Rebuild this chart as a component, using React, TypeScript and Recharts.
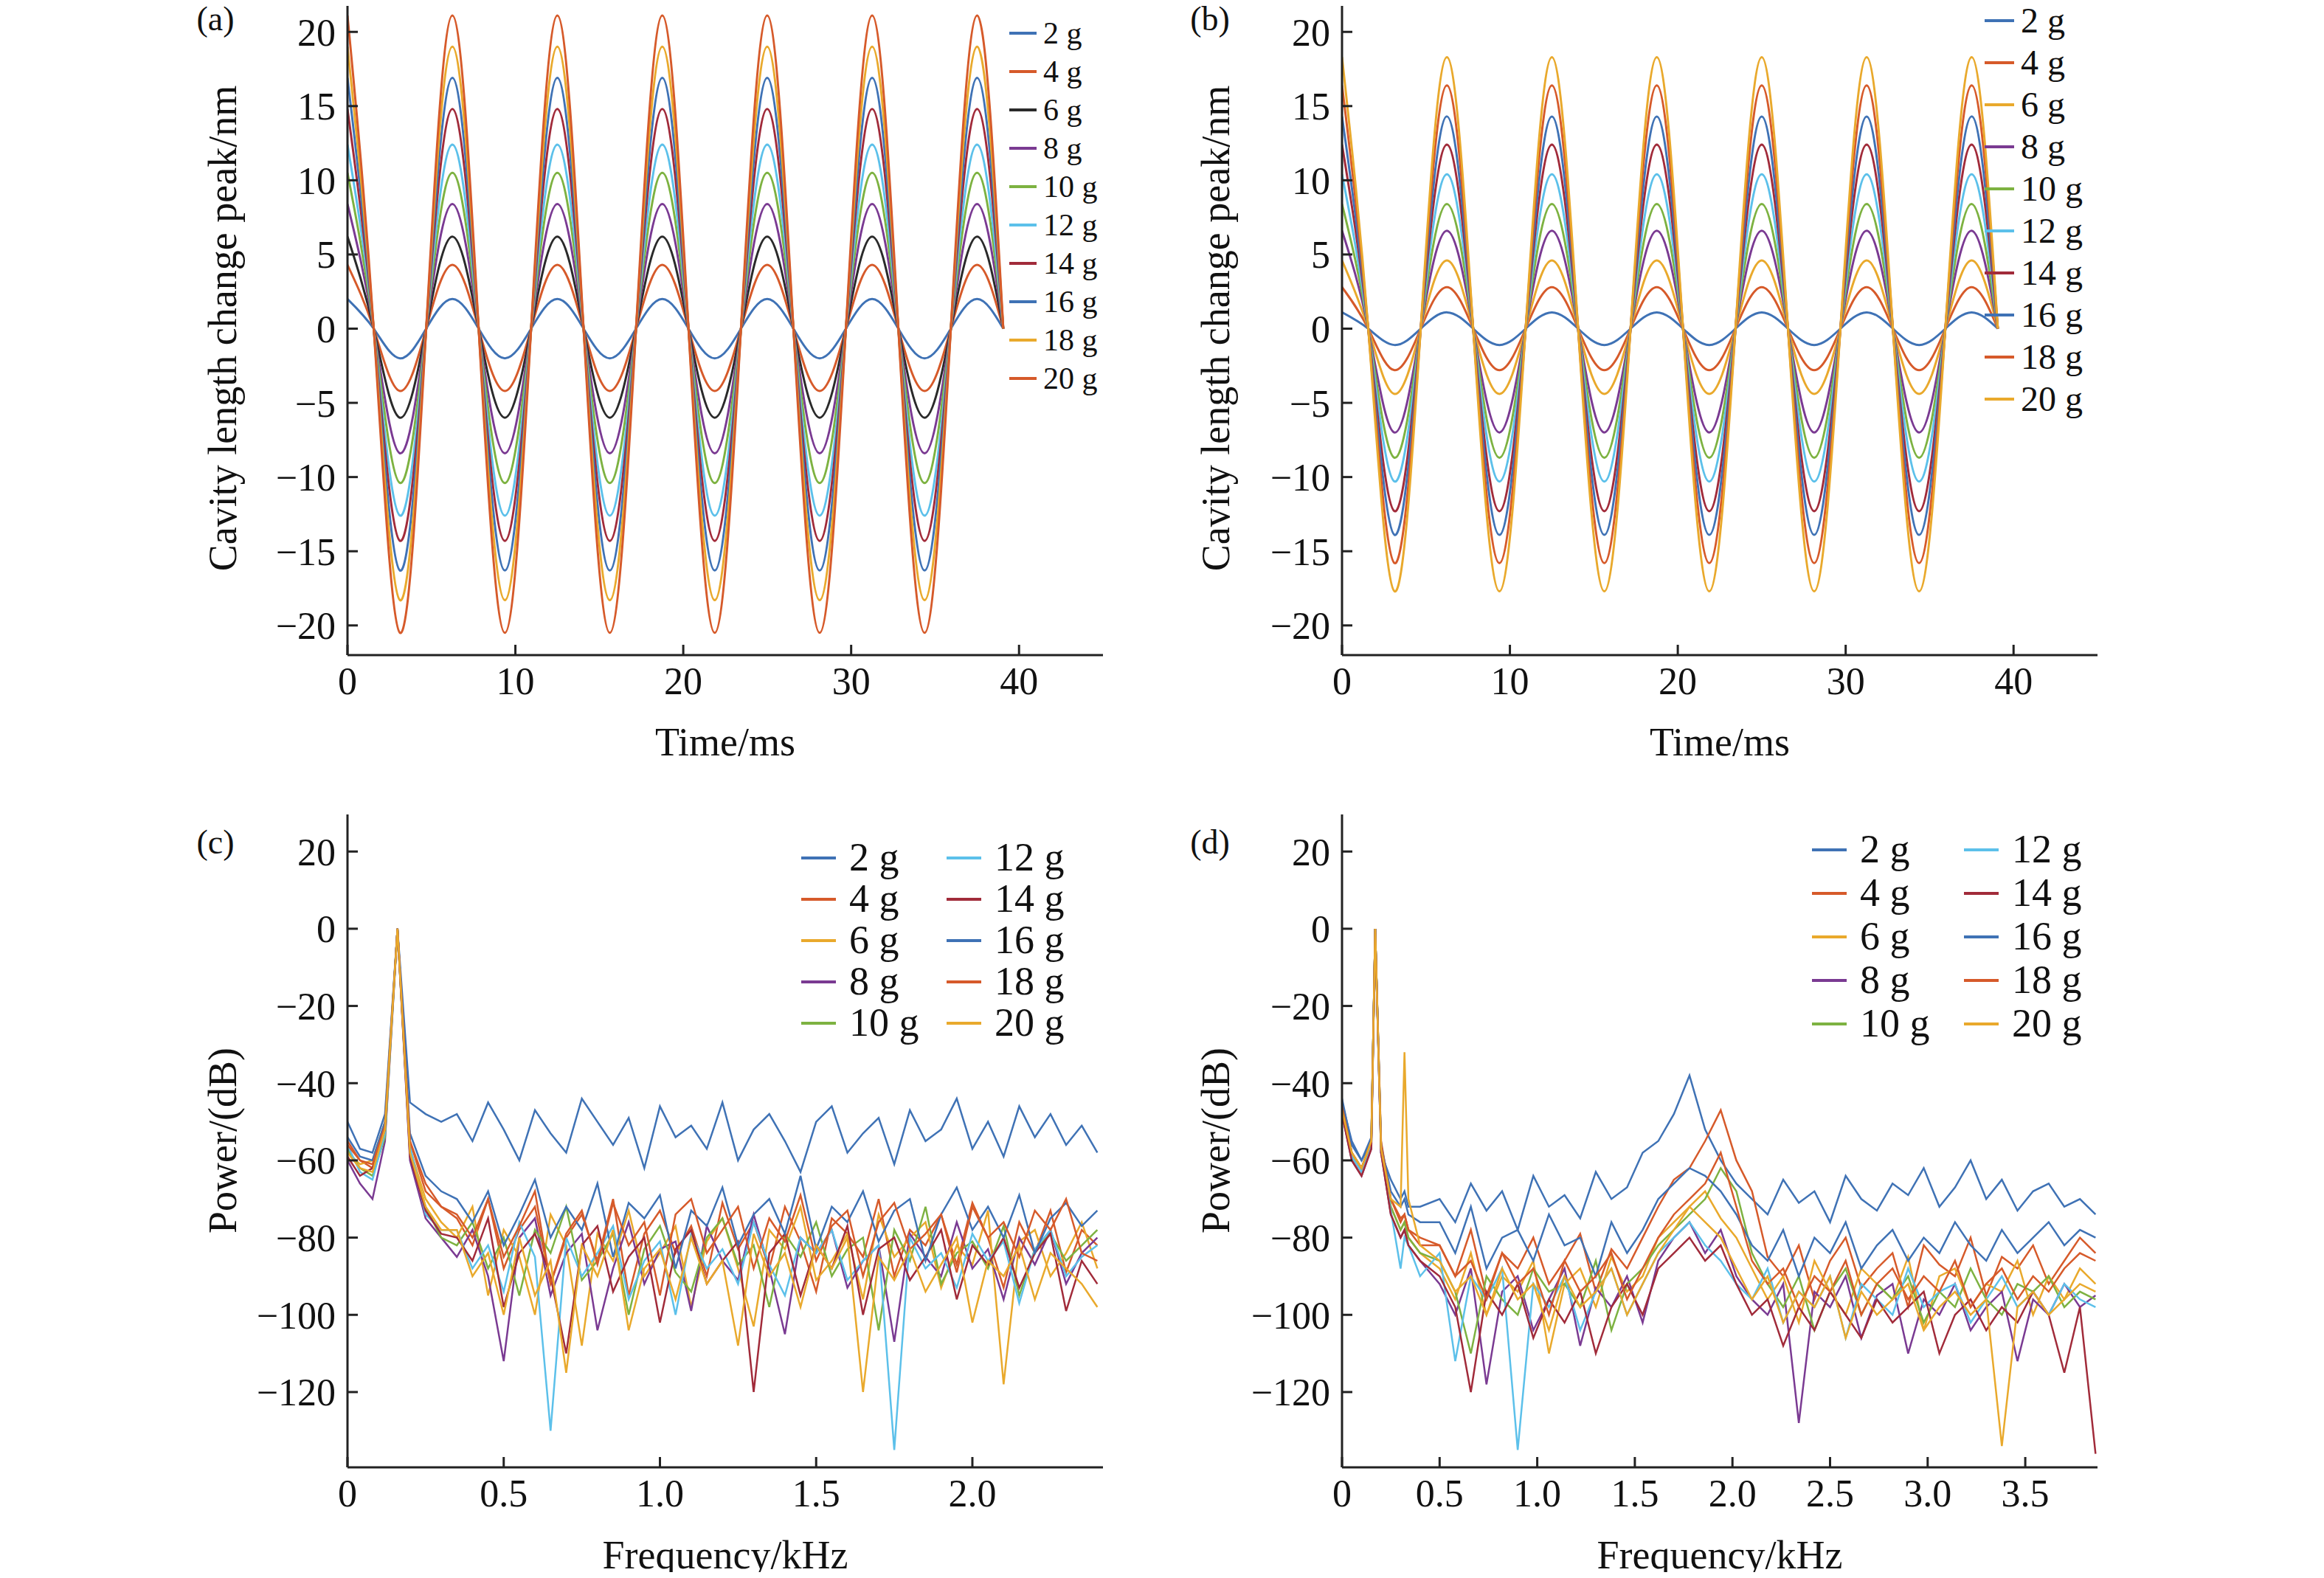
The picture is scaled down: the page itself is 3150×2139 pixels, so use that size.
import React from "react"
import { LineChart, Line, XAxis, YAxis } from "recharts"

const BLUE = "#3F72B5"
const RED = "#D65A2A"
const YEL = "#E9A92C"
const PUR = "#7A3A92"
const GRN = "#7DB241"
const LBL = "#5CC0EA"
const DRD = "#A12B3A"
const BLK = "#2A2A2A"

const loads = ["2 g", "4 g", "6 g", "8 g", "10 g", "12 g", "14 g", "16 g", "18 g", "20 g"]
const colorsA = [BLUE, RED, BLK, PUR, GRN, LBL, DRD, BLUE, YEL, RED]
const colorsB = [BLUE, RED, YEL, PUR, GRN, LBL, DRD, BLUE, RED, YEL]

// time samples at quarter periods (period ~6.25 ms)
const timeMs = [0, 1.5625, 3.125, 4.6875, 6.25, 7.8125, 9.375, 10.9375, 12.5, 14.0625, 15.625, 17.1875, 18.75, 20.3125, 21.875, 23.4375, 25, 26.5625, 28.125, 29.6875, 31.25, 32.8125, 34.375, 35.9375, 37.5, 39.0625]
const peaksA = [2, 4.3, 6.2, 8.4, 10.5, 12.4, 14.8, 16.9, 19, 21.1]
const troughsA = [-2, -4.2, -6, -8.4, -10.4, -12.6, -14.3, -16.3, -18.3, -20.5]
const peaksB = [1.1, 2.8, 4.6, 6.6, 8.4, 10.4, 12.4, 14.3, 16.4, 18.3]
const troughsB = [-1.1, -2.8, -4.4, -7, -8.7, -10.3, -12.3, -13.9, -15.8, -17.7]

const freqC = [0, 0.04, 0.08, 0.12, 0.16, 0.2, 0.25, 0.3, 0.35, 0.4, 0.45, 0.5, 0.55, 0.6, 0.65, 0.7, 0.75, 0.8, 0.85, 0.9, 0.95, 1.0, 1.05, 1.1, 1.15, 1.2, 1.25, 1.3, 1.35, 1.4, 1.45, 1.5, 1.55, 1.6, 1.65, 1.7, 1.75, 1.8, 1.85, 1.9, 1.95, 2.0, 2.05, 2.1, 2.15, 2.2, 2.25, 2.3, 2.35, 2.4]
const powerC = [
  [-50, -57, -58, -48, 0, -45, -48, -50, -48, -55, -45, -52, -60, -47, -53, -58, -44, -50, -56, -49, -62, -46, -54, -51, -57, -45, -60, -52, -48, -55, -63, -50, -46, -58, -53, -49, -61, -47, -55, -52, -44, -57, -50, -59, -46, -54, -48, -56, -51, -58],
  [-55, -60, -62, -52, 0, -55, -66, -72, -75, -82, -70, -88, -78, -72, -92, -80, -74, -86, -70, -95, -79, -73, -84, -77, -90, -71, -83, -76, -88, -72, -81, -94, -75, -79, -85, -70, -90, -78, -82, -74, -87, -71, -80, -93, -76, -84, -73, -89, -78, -82],
  [-58, -61, -60, -50, 0, -57, -70, -76, -80, -72, -95, -78, -85, -100, -74, -82, -108, -79, -86, -73, -90, -84, -77, -98, -81, -75, -88, -103, -78, -83, -72, -91, -86, -79, -96, -74, -85, -80, -76, -93, -82, -87, -73, -118, -81, -78, -90, -84, -76, -88],
  [-60, -66, -70, -55, 0, -60, -75, -80, -85, -78, -90, -112, -80, -75, -95, -84, -79, -104, -88, -76, -92, -83, -81, -99, -77, -86, -91, -74, -88, -105, -80, -84, -78, -93, -86, -82, -107, -79, -85, -90, -76, -88, -83, -96, -80, -87, -78, -92, -84, -80],
  [-57, -62, -64, -54, 0, -58, -72, -80, -82, -76, -88, -80, -95, -78, -84, -72, -91, -86, -79, -100, -83, -77, -89, -94, -80, -75, -87, -82, -98, -79, -85, -76, -90, -83, -80, -104, -78, -86, -72, -92, -84, -81, -88, -77, -95, -83, -79, -86, -82, -78],
  [-56, -63, -65, -53, 0, -56, -74, -78, -78, -88, -82, -94, -76, -85, -130, -80, -90, -84, -77, -96, -86, -81, -100, -79, -88, -83, -92, -76, -87, -95, -80, -84, -78, -91, -86, -82, -135, -80, -88, -84, -93, -79, -86, -81, -97, -83, -78, -90, -85, -82],
  [-59, -64, -62, -52, 0, -59, -73, -79, -80, -86, -75, -98, -84, -79, -90, -110, -82, -77, -94, -85, -80, -102, -83, -78, -92, -86, -81, -120, -84, -79, -95, -82, -88, -77, -100, -83, -80, -91, -85, -78, -96, -82, -87, -80, -93, -84, -79, -99, -86, -92],
  [-54, -59, -60, -50, 0, -53, -64, -68, -70, -76, -68, -82, -74, -65, -80, -72, -78, -66, -85, -71, -75, -69, -88, -73, -77, -67, -82, -74, -70, -79, -64, -83, -72, -76, -68, -81, -73, -70, -86, -74, -67, -78, -72, -80, -69, -84, -75, -71, -77, -73],
  [-56, -60, -61, -51, 0, -55, -68, -72, -74, -80, -70, -85, -77, -68, -92, -79, -73, -87, -71, -82, -76, -95, -74, -70, -84, -78, -72, -88, -75, -81, -69, -86, -77, -73, -90, -76, -71, -83, -79, -74, -89, -72, -80, -76, -85, -73, -78, -70, -84, -86],
  [-58, -62, -63, -52, 0, -58, -72, -78, -78, -90, -84, -100, -80, -95, -86, -115, -82, -90, -78, -104, -88, -83, -96, -80, -92, -86, -108, -79, -90, -84, -98, -82, -88, -80, -120, -85, -91, -83, -94, -87, -80, -102, -86, -90, -82, -96, -84, -88, -92, -98],
]

const freqD = [0, 0.05, 0.1, 0.15, 0.17, 0.2, 0.25, 0.3, 0.32, 0.34, 0.4, 0.5, 0.58, 0.66, 0.74, 0.82, 0.9, 0.98, 1.06, 1.14, 1.22, 1.3, 1.38, 1.46, 1.54, 1.62, 1.7, 1.78, 1.86, 1.94, 2.02, 2.1, 2.18, 2.26, 2.34, 2.42, 2.5, 2.58, 2.66, 2.74, 2.82, 2.9, 2.98, 3.06, 3.14, 3.22, 3.3, 3.38, 3.46, 3.54, 3.62, 3.7, 3.78, 3.86]
const powerD = [
  [-45, -55, -60, -55, 0, -58, -65, -70, -68, -72, -72, -70, -76, -66, -73, -68, -78, -64, -72, -69, -75, -63, -70, -67, -58, -55, -48, -38, -52, -60, -66, -70, -74, -65, -71, -68, -76, -64, -70, -73, -66, -69, -62, -72, -67, -60, -70, -65, -73, -68, -66, -72, -70, -74],
  [-46, -58, -62, -55, 0, -55, -70, -75, -74, -78, -80, -82, -90, -78, -95, -84, -88, -80, -92, -86, -79, -94, -83, -88, -80, -72, -65, -62, -55, -47, -60, -68, -85, -90, -82, -96, -86, -80, -93, -88, -84, -98, -82, -87, -90, -80, -95, -85, -88, -82, -92, -86, -80, -84],
  [-47, -59, -63, -56, 0, -57, -72, -78, -76, -80, -84, -88, -96, -84, -100, -90, -94, -86, -110, -92, -88, -98, -85, -94, -90, -80, -76, -72, -68, -75, -80, -88, -96, -90, -102, -86, -94, -100, -88, -92, -96, -85, -104, -90, -88, -98, -92, -94, -86, -100, -90, -96, -88, -92],
  [-48, -60, -64, -57, 0, -58, -74, -80, -78, -82, -86, -92, -100, -88, -118, -94, -90, -104, -96, -88, -108, -93, -98, -90, -102, -86, -80, -76, -84, -78, -90, -96, -100, -92, -128, -94, -98, -90, -106, -95, -92, -110, -96, -100, -92, -104, -98, -94, -112, -96, -100, -92, -98, -95],
  [-46, -58, -62, -55, 0, -56, -72, -78, -76, -80, -84, -86, -94, -110, -90, -96, -100, -88, -94, -92, -98, -86, -104, -92, -88, -82, -78, -74, -70, -62, -68, -84, -92, -98, -90, -104, -94, -88, -100, -92, -96, -90, -102, -94, -98, -88, -96, -100, -92, -94, -90, -98, -94, -96],
  [-47, -59, -63, -56, 0, -57, -73, -88, -80, -82, -90, -84, -112, -90, -96, -88, -135, -92, -98, -90, -104, -94, -88, -100, -92, -84, -80, -76, -82, -86, -92, -96, -88, -102, -94, -98, -90, -106, -92, -96, -100, -88, -98, -94, -92, -102, -96, -90, -98, -94, -100, -92, -96, -98],
  [-48, -60, -64, -57, 0, -58, -74, -80, -78, -82, -86, -90, -98, -120, -94, -100, -92, -106, -96, -102, -94, -110, -98, -92, -100, -88, -84, -80, -86, -82, -92, -100, -96, -108, -98, -104, -94, -100, -106, -96, -102, -98, -94, -110, -100, -96, -104, -98, -102, -94, -100, -115, -98, -136],
  [-44, -56, -60, -54, 0, -56, -68, -72, -70, -74, -76, -76, -84, -72, -88, -80, -78, -86, -74, -82, -80, -90, -76, -84, -78, -70, -66, -62, -64, -68, -74, -82, -86, -78, -90, -80, -84, -76, -88, -82, -78, -86, -80, -84, -76, -82, -86, -78, -84, -80, -76, -82, -78, -80],
  [-46, -58, -62, -55, 0, -56, -70, -76, -74, -78, -82, -82, -90, -86, -96, -84, -92, -88, -100, -86, -94, -90, -84, -96, -88, -80, -74, -70, -66, -58, -72, -86, -92, -88, -98, -90, -94, -86, -100, -92, -88, -96, -90, -94, -86, -98, -92, -88, -96, -90, -94, -88, -84, -86],
  [-47, -58, -62, -55, 0, -57, -70, -72, -32, -70, -82, -86, -94, -90, -100, -88, -96, -92, -104, -90, -98, -94, -88, -100, -92, -84, -78, -72, -76, -80, -88, -96, -90, -102, -94, -98, -90, -106, -94, -100, -96, -92, -104, -98, -94, -100, -96, -134, -98, -94, -100, -96, -92, -94],
]

const ticksTime = [0, 10, 20, 30, 40]
const ticksCav = [-20, -15, -10, -5, 0, 5, 10, 15, 20]
const ticksPow = [-120, -100, -80, -60, -40, -20, 0, 20]
const ticksFreqC = [0, 0.5, 1.0, 1.5, 2.0]
const ticksFreqD = [0, 0.5, 1.0, 1.5, 2.0, 2.5, 3.0, 3.5]

const buildTime = (peaks: number[], troughs: number[]) =>
  timeMs.map((t, i) => {
    const row: any = { t }
    loads.forEach((_, k) => {
      const ph = i % 4
      row["s" + k] = ph === 0 ? peaks[k] : ph === 2 ? troughs[k] : 0
    })
    return row
  })

const buildSpec = (freq: number[], power: number[][]) =>
  freq.map((f, i) => {
    const row: any = { t: f }
    power.forEach((p, k) => (row["s" + k] = p[i]))
    return row
  })

const dataA = buildTime(peaksA, troughsA)
const dataB = buildTime(peaksB, troughsB)
const dataC = buildSpec(freqC, powerC)
const dataD = buildSpec(freqD, powerD)

const FONT = "'Liberation Serif', 'DejaVu Serif', serif"
const minus = (v: number) => String(v).replace("-", "\u2212")
const tick = { fontSize: 52, fill: "#111", fontFamily: FONT }
const axisLine = { stroke: "#222", strokeWidth: 3 }
const noTick = () => <g />

type PanelProps = {
  data: any[]
  colors: string[]
  plot: [number, number, number, number] // x0, y0, x1, y1 page coords
  xDomain: [number, number]
  yDomain: [number, number]
  xTicks: number[]
  yTicks: number[]
  xFmt: (v: number) => string
  curve: "natural" | "linear"
  width: number
}

const Panel = (p: PanelProps) => {
  const pad = 140
  const W = p.plot[2] - p.plot[0] + 2 * pad
  const H = p.plot[3] - p.plot[1] + 2 * pad
  const yw = 100
  const xh = 80
  const margin = { left: pad - yw, top: pad, right: pad, bottom: pad - xh }
  return (
    <div style={{ position: "absolute", left: p.plot[0] - pad, top: p.plot[1] - pad }}>
      <LineChart width={W} height={H} data={p.data} margin={margin}>
        <XAxis dataKey="t" type="number" domain={p.xDomain} ticks={p.xTicks} allowDataOverflow
          tickFormatter={p.xFmt} tick={tick} tickSize={-14} tickMargin={30} height={xh}
          axisLine={axisLine} tickLine={axisLine} />
        <XAxis xAxisId="top" orientation="top" type="number" domain={p.xDomain} ticks={p.xTicks} height={0}
          tick={noTick} tickSize={-14} axisLine={axisLine} tickLine={axisLine} />
        <YAxis type="number" domain={p.yDomain} ticks={p.yTicks} allowDataOverflow width={yw}
          tickFormatter={minus} tick={tick} tickSize={-14} tickMargin={30}
          axisLine={axisLine} tickLine={axisLine} />
        <YAxis yAxisId="right" orientation="right" type="number" domain={p.yDomain} ticks={p.yTicks} width={0}
          tick={noTick} tickSize={-14} axisLine={axisLine} tickLine={axisLine} />
        {loads.map((_, k) => (
          <Line key={k} dataKey={"s" + k} type={p.curve} stroke={p.colors[k]} strokeWidth={p.width}
            dot={false} isAnimationActive={false} />
        ))}
      </LineChart>
    </div>
  )
}

const LegendItem = ({ x, y, color, text, size, len, gap }: any) => (
  <div style={{ position: "absolute", left: x, top: y - size * 0.55, display: "flex", alignItems: "center", fontFamily: FONT, fontSize: size, color: "#111", whiteSpace: "nowrap", lineHeight: 1.1 }}>
    <svg width={len} height={10} style={{ marginRight: gap }}>
      <line x1={0} y1={5} x2={len} y2={5} stroke={color} strokeWidth={4} />
    </svg>
    {text}
  </div>
)

const Text = ({ x, y, size, text, rotate }: any) => (
  <div style={{ position: "absolute", left: x, top: y, transform: `translate(-50%, -50%)${rotate ? " rotate(-90deg)" : ""}`, fontFamily: FONT, fontSize: size, color: "#111", whiteSpace: "nowrap", lineHeight: 1 }}>{text}</div>
)

export default function App() {
  const fmtTime = (v: number) => String(v)
  const fmtFreq = (v: number) => (v === 0 ? "0" : v.toFixed(1))
  const top = [3, 888]
  const bot = [1104, 1989]
  return (
    <div style={{ position: "relative", margin: -8, width: 3150, height: 2139, background: "#fff", overflow: "hidden" }}>
      <Panel data={dataA} colors={colorsA} plot={[471, top[0], 1495, top[1]]}
        xDomain={[0, 45]} yDomain={[-22, 22]} xTicks={ticksTime} yTicks={ticksCav} xFmt={fmtTime} curve="natural" width={3} />
      <Panel data={dataB} colors={colorsB} plot={[1819, top[0], 2843, top[1]]}
        xDomain={[0, 45]} yDomain={[-22, 22]} xTicks={ticksTime} yTicks={ticksCav} xFmt={fmtTime} curve="natural" width={3} />
      <Panel data={dataC} colors={colorsB} plot={[471, bot[0], 1495, bot[1]]}
        xDomain={[0, 2.418]} yDomain={[-139.5, 29.6]} xTicks={ticksFreqC} yTicks={ticksPow} xFmt={fmtFreq} curve="linear" width={2.5} />
      <Panel data={dataD} colors={colorsB} plot={[1819, bot[0], 2843, bot[1]]}
        xDomain={[0, 3.87]} yDomain={[-139.5, 29.6]} xTicks={ticksFreqD} yTicks={ticksPow} xFmt={fmtFreq} curve="linear" width={2.5} />

      <Text x={302} y={445} size={54} text="Cavity length change peak/nm" rotate />
      <Text x={1648} y={445} size={54} text="Cavity length change peak/nm" rotate />
      <Text x={302} y={1546} size={54} text="Power/(dB)" rotate />
      <Text x={1648} y={1546} size={54} text="Power/(dB)" rotate />
      <Text x={983} y={1006} size={54} text="Time/ms" />
      <Text x={2331} y={1006} size={54} text="Time/ms" />
      <Text x={983} y={2108} size={54} text="Frequency/kHz" />
      <Text x={2331} y={2108} size={54} text="Frequency/kHz" />
      <Text x={292} y={26} size={46} text="(a)" />
      <Text x={1640} y={26} size={46} text="(b)" />
      <Text x={292} y={1142} size={46} text="(c)" />
      <Text x={1640} y={1142} size={46} text="(d)" />

      {loads.map((l, k) => (
        <LegendItem key={"a" + k} x={1368} y={45 + k * 52} color={colorsA[k]} text={l} size={42} len={37} gap={9} />
      ))}
      {loads.map((l, k) => (
        <LegendItem key={"b" + k} x={2690} y={28 + k * 57} color={colorsB[k]} text={l} size={48} len={40} gap={9} />
      ))}
      {loads.map((l, k) => (
        <LegendItem key={"c" + k} x={k < 5 ? 1086 : 1283} y={1163 + (k % 5) * 56} color={colorsB[k]} text={l} size={54} len={47} gap={18} />
      ))}
      {loads.map((l, k) => (
        <LegendItem key={"d" + k} x={k < 5 ? 2456 : 2662} y={1152 + (k % 5) * 59} color={colorsB[k]} text={l} size={54} len={47} gap={18} />
      ))}
    </div>
  )
}
